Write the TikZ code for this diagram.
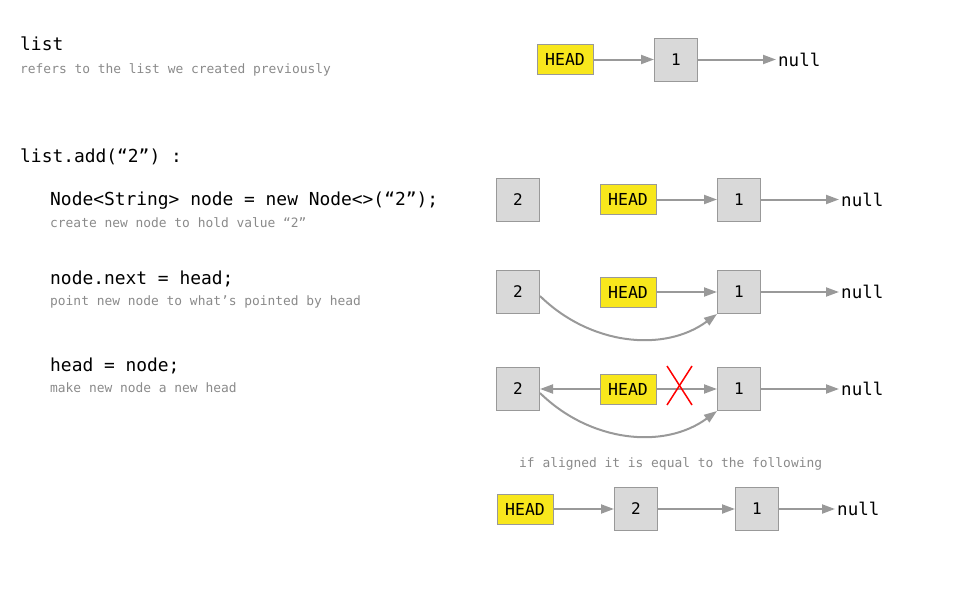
\documentclass[tikz,border=0pt]{standalone}
\usepackage{fontspec}
\setmonofont{DejaVu Sans Mono}
\usetikzlibrary{arrows.meta}

\definecolor{boxgray}{HTML}{D9D9D9}
\definecolor{linegray}{HTML}{999999}
\definecolor{headyellow}{HTML}{F8E71C}
\definecolor{notegray}{HTML}{8A8A8A}

\tikzset{
  cell/.style={draw=linegray, fill=boxgray, line width=1pt, minimum size=43pt, inner sep=0pt,
    font=\ttfamily\fontsize{16}{18}\selectfont},
  headbox/.style={draw=linegray, fill=headyellow, line width=1pt, minimum width=56pt, minimum height=30pt,
    inner sep=0pt, font=\ttfamily\fontsize{16.5}{18}\selectfont},
  nullnode/.style={anchor=west, inner sep=2pt, font=\ttfamily\fontsize{17.5}{20}\selectfont},
  code/.style={anchor=base west, inner sep=0pt, font=\ttfamily\fontsize{17.9}{20}\selectfont},
  note/.style={anchor=base west, inner sep=0pt, text=notegray, font=\ttfamily\fontsize{12.9}{15}\selectfont},
  link/.style={draw=linegray, line width=2pt, -{Triangle[length=13pt, width=9pt]}},
}

\begin{document}
\begin{tikzpicture}[x=1pt, y=-1pt]
    \useasboundingbox (0,0) rectangle (973,589);

    % Texte de gauche
    \node[code] (t0) at (20,50) {list};
    \node[note] (n0) at (20,73) {refers to the list we created previously};
    \node[code] (t1) at (20,162) {list.add(“2”) :};
    \node[code] (t2) at (50,205) {Node<String> node = new Node<>(“2”);};
    \node[note] (n2) at (50,227) {create new node to hold value “2”};
    \node[code] (t3) at (50,284) {node.next = head;};
    \node[note] (n3) at (50,305) {point new node to what’s pointed by head};
    \node[code] (t4) at (50,371) {head = node;};
    \node[note] (n4) at (50,392) {make new node a new head};

    % Liste de depart
    \node[headbox] (head0) at (565,59.5) {HEAD};
    \node[cell] (one0) at (676,59.5) {1};
    \node[nullnode] (null0) at (776,59.5) {null};
    \draw[link] (head0) -- (one0);
    \draw[link] (one0) -- (null0);

    % Etapes 1 a 3
    \foreach \r/\y in {1/199.5, 2/292, 3/389} {
        \node[cell] (two\r) at (518,\y) {2};
        \node[headbox] (head\r) at (628,\y) {HEAD};
        \node[cell] (one\r) at (739,\y) {1};
        \node[nullnode] (null\r) at (839,\y) {null};
        \draw[link] (one\r) -- (null\r);
    }
    \draw[link] (head1) -- (one1);
    \draw[link] (head2) -- (one2);
    \draw[link] (head3) -- (one3);
    \draw[link] (head3) -- (two3);

    % Lien node.next
    \draw[link] ([yshift=-4pt]two2.east) .. controls +(50,49) and +(-53,39) .. (one2.south west);
    \draw[link] ([yshift=-4pt]two3.east) .. controls +(50,49) and +(-53,39) .. (one3.south west);

    % Croix
    \draw[red, line width=1.5pt] (667,366) -- (692,405);
    \draw[red, line width=1.5pt] (692,366) -- (667,405);

    % Resultat
    \node[note] (n5) at (519,467) {if aligned it is equal to the following};
    \node[headbox] (head4) at (525,509) {HEAD};
    \node[cell] (two4) at (636,509) {2};
    \node[cell] (one4) at (757,509) {1};
    \node[nullnode] (null4) at (835,509) {null};
    \draw[link] (head4) -- (two4);
    \draw[link] (two4) -- (one4);
    \draw[link] (one4) -- (null4);
\end{tikzpicture}
\end{document}
